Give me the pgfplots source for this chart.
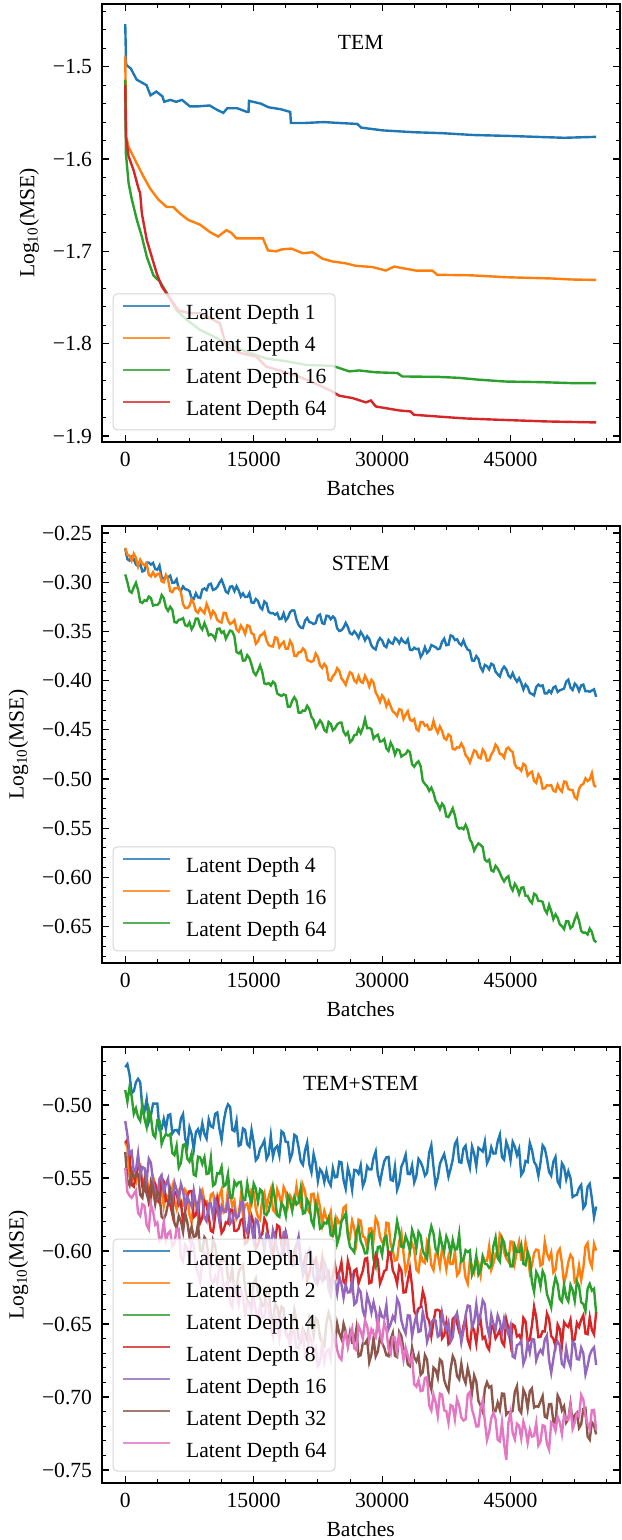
\documentclass[border=0pt]{standalone}
\usepackage{fontspec}
\setmainfont{Liberation Serif}
\usepackage{pgfplots}
\usepackage{pgfplotstable}
\pgfplotsset{compat=1.18}

\definecolor{C0}{HTML}{1F77B4}
\definecolor{C1}{HTML}{FF7F0E}
\definecolor{C2}{HTML}{2CA02C}
\definecolor{C3}{HTML}{D62728}
\definecolor{C4}{HTML}{9467BD}
\definecolor{C5}{HTML}{8C564B}
\definecolor{C6}{HTML}{E377C2}

\newcommand{\fs}{\fontsize{10.8}{13}\selectfont}

% STEM losses, every 250 batches
\pgfplotstableread[row sep=\\]{
x d4 d16 d64\\
0 -0.266 -0.265 -0.292\\
250 -0.2765 -0.272 -0.2999\\
500 -0.278 -0.273 -0.309\\
750 -0.2743 -0.278 -0.3106\\
1000 -0.2765 -0.271 -0.305\\
1250 -0.282 -0.2751 -0.3005\\
1500 -0.2835 -0.284 -0.308\\
1750 -0.2813 -0.2771 -0.3199\\
2000 -0.289 -0.281 -0.321\\
2250 -0.288 -0.2828 -0.3182\\
2500 -0.280 -0.281 -0.319\\
2750 -0.280 -0.2923 -0.3145\\
3000 -0.282 -0.294 -0.316\\
3250 -0.2803 -0.2898 -0.3237\\
3500 -0.2865 -0.294 -0.323\\
3750 -0.2873 -0.2919 -0.3231\\
4000 -0.283 -0.291 -0.3207\\
4250 -0.2948 -0.2991 -0.313\\
4500 -0.2965 -0.300 -0.316\\
4750 -0.2938 -0.2925 -0.3255\\
5000 -0.295 -0.297 -0.329\\
5250 -0.2933 -0.3089 -0.3249\\
5500 -0.3005 -0.310 -0.328\\
5750 -0.3003 -0.3062 -0.3405\\
6000 -0.297 -0.306 -0.341\\
6250 -0.3068 -0.305 -0.3382\\
6500 -0.3085 -0.310 -0.3377\\
6750 -0.3043 -0.3222 -0.3365\\
7000 -0.307 -0.326 -0.3437\\
7250 -0.3075 -0.3262 -0.3446\\
7500 -0.309 -0.324 -0.3407\\
7750 -0.316 -0.3174 -0.3478\\
8000 -0.317 -0.3215 -0.344\\
8250 -0.3112 -0.3293 -0.3369\\
8500 -0.3153 -0.331 -0.337\\
8750 -0.3159 -0.3264 -0.3449\\
9000 -0.3075 -0.329 -0.348\\
9250 -0.3063 -0.3315 -0.3414\\
9500 -0.308 -0.322 -0.3468\\
9750 -0.3023 -0.3273 -0.354\\
10000 -0.3015 -0.335 -0.3528\\
10250 -0.3078 -0.3293 -0.3541\\
10500 -0.307 -0.332 -0.3578\\
10750 -0.3048 -0.3384 -0.3476\\
11000 -0.3005 -0.340 -0.347\\
11250 -0.2973 -0.3409 -0.3514\\
11500 -0.303 -0.331 -0.3498\\
11750 -0.3095 -0.3314 -0.3574\\
12000 -0.311 -0.339 -0.353\\
12250 -0.3045 -0.3424 -0.3491\\
12500 -0.304 -0.341 -0.350\\
12750 -0.309 -0.3385 -0.3551\\
13000 -0.304 -0.348 -0.371\\
13250 -0.3083 -0.3502 -0.3723\\
13500 -0.3145 -0.344 -0.370\\
13750 -0.3113 -0.3471 -0.3796\\
14000 -0.315 -0.3525 -0.3795\\
14250 -0.315 -0.3437 -0.3741\\
14500 -0.311 -0.3445 -0.377\\
14750 -0.3205 -0.3518 -0.3837\\
15000 -0.321 -0.353 -0.3915\\
15250 -0.317 -0.3625 -0.3944\\
15500 -0.319 -0.360 -0.390\\
15750 -0.3253 -0.3541 -0.3845\\
16000 -0.3275 -0.353 -0.391\\
16250 -0.3195 -0.3506 -0.4027\\
16500 -0.3215 -0.359 -0.4035\\
16750 -0.330 -0.3638 -0.4025\\
17000 -0.3315 -0.365 -0.405\\
17250 -0.3313 -0.3653 -0.401\\
17500 -0.333 -0.356 -0.403\\
17750 -0.3313 -0.3568 -0.413\\
18000 -0.3375 -0.366 -0.4145\\
18250 -0.337 -0.3627 -0.4155\\
18500 -0.3315 -0.3605 -0.414\\
18750 -0.3388 -0.3676 -0.4149\\
19000 -0.336 -0.3675 -0.4265\\
19250 -0.3303 -0.3595 -0.4265\\
19500 -0.3285 -0.3635 -0.4205\\
19750 -0.3288 -0.3747 -0.4169\\
20000 -0.338 -0.375 -0.4205\\
20250 -0.3435 -0.3712 -0.4325\\
20500 -0.346 -0.371 -0.4325\\
20750 -0.3465 -0.3673 -0.4303\\
21000 -0.339 -0.3695 -0.4305\\
21250 -0.3363 -0.379 -0.4256\\
21500 -0.3405 -0.380 -0.429\\
21750 -0.341 -0.381 -0.4369\\
22000 -0.3425 -0.3795 -0.440\\
22250 -0.3413 -0.3724 -0.4477\\
22500 -0.334 -0.376 -0.4445\\
22750 -0.3328 -0.3845 -0.4404\\
23000 -0.3415 -0.387 -0.4435\\
23250 -0.3423 -0.3829 -0.4502\\
23500 -0.334 -0.386 -0.452\\
23750 -0.3343 -0.399 -0.442\\
24000 -0.3375 -0.400 -0.444\\
24250 -0.3348 -0.3953 -0.4505\\
24500 -0.337 -0.393 -0.4485\\
24750 -0.3468 -0.3873 -0.4445\\
25000 -0.3495 -0.390 -0.4428\\
25250 -0.3488 -0.3977 -0.4426\\
25500 -0.346 -0.4005 -0.452\\
25750 -0.3413 -0.4042 -0.4553\\
26000 -0.3455 -0.397 -0.4525\\
26250 -0.3518 -0.3914 -0.4625\\
26500 -0.353 -0.393 -0.4605\\
26750 -0.3498 -0.3999 -0.4554\\
27000 -0.3525 -0.402 -0.455\\
27250 -0.3565 -0.3955 -0.4489\\
27500 -0.3505 -0.401 -0.4535\\
27750 -0.3538 -0.4022 -0.4481\\
28000 -0.359 -0.395 -0.439\\
28250 -0.3548 -0.3993 -0.4483\\
28500 -0.3575 -0.406 -0.448\\
28750 -0.3643 -0.3992 -0.4493\\
29000 -0.367 -0.402 -0.459\\
29250 -0.3683 -0.412 -0.4564\\
29500 -0.3605 -0.416 -0.455\\
29750 -0.3568 -0.4215 -0.4619\\
30000 -0.359 -0.415 -0.4615\\
30250 -0.3645 -0.4181 -0.4593\\
30500 -0.366 -0.426 -0.469\\
30750 -0.3588 -0.4206 -0.4714\\
31000 -0.3615 -0.426 -0.463\\
31250 -0.3625 -0.4313 -0.4673\\
31500 -0.3565 -0.433 -0.4752\\
31750 -0.3583 -0.4358 -0.4699\\
32000 -0.362 -0.429 -0.4705\\
32250 -0.3573 -0.4298 -0.4772\\
32500 -0.3605 -0.439 -0.4755\\
32750 -0.3618 -0.4344 -0.4745\\
33000 -0.358 -0.431 -0.471\\
33250 -0.3685 -0.4396 -0.4726\\
33500 -0.369 -0.441 -0.485\\
33750 -0.3665 -0.439 -0.4875\\
34000 -0.368 -0.449 -0.484\\
34250 -0.3675 -0.4509 -0.4819\\
34500 -0.376 -0.442 -0.487\\
34750 -0.3725 -0.4421 -0.502\\
35000 -0.366 -0.4458 -0.505\\
35250 -0.3718 -0.4448 -0.5073\\
35500 -0.3695 -0.4498 -0.512\\
35750 -0.3638 -0.4495 -0.5088\\
36000 -0.365 -0.4408 -0.514\\
36250 -0.366 -0.4481 -0.5222\\
36500 -0.368 -0.453 -0.5255\\
36750 -0.3673 -0.4466 -0.5307\\
37000 -0.3605 -0.451 -0.525\\
37250 -0.3573 -0.4585 -0.5279\\
37500 -0.364 -0.460 -0.538\\
37750 -0.3635 -0.4547 -0.5387\\
38000 -0.354 -0.4565 -0.5345\\
38250 -0.3549 -0.4693 -0.5298\\
38500 -0.3588 -0.470 -0.537\\
38750 -0.3579 -0.4678 -0.548\\
39000 -0.362 -0.468 -0.5505\\
39250 -0.364 -0.4638 -0.5496\\
39500 -0.359 -0.468 -0.551\\
39750 -0.3648 -0.4757 -0.5465\\
40000 -0.3685 -0.4785 -0.5515\\
40250 -0.3695 -0.4832 -0.5613\\
40500 -0.3795 -0.477 -0.565\\
40750 -0.3798 -0.4709 -0.5728\\
41000 -0.375 -0.472 -0.5685\\
41250 -0.3778 -0.4779 -0.5654\\
41500 -0.3865 -0.479 -0.567\\
41750 -0.3903 -0.470 -0.5691\\
42000 -0.384 -0.473 -0.582\\
42250 -0.3853 -0.4812 -0.5838\\
42500 -0.3885 -0.481 -0.582\\
42750 -0.3828 -0.4751 -0.5928\\
43000 -0.384 -0.4715 -0.594\\
43250 -0.3908 -0.465 -0.5883\\
43500 -0.3935 -0.468 -0.591\\
43750 -0.3958 -0.4745 -0.5952\\
44000 -0.389 -0.475 -0.6005\\
44250 -0.3858 -0.4783 -0.6041\\
44500 -0.3885 -0.4695 -0.6005\\
44750 -0.3948 -0.4679 -0.5988\\
45000 -0.397 -0.471 -0.609\\
45250 -0.3923 -0.4726 -0.6132\\
45500 -0.3975 -0.485 -0.6065\\
45750 -0.401 -0.4888 -0.61\\
46000 -0.3975 -0.489 -0.617\\
46250 -0.4023 -0.4916 -0.6105\\
46500 -0.409 -0.4845 -0.610\\
46750 -0.4038 -0.4863 -0.6186\\
47000 -0.4065 -0.4965 -0.6187\\
47250 -0.4125 -0.4939 -0.6236\\
47500 -0.4135 -0.4925 -0.626\\
47750 -0.415 -0.5019 -0.6166\\
48000 -0.4065 -0.504 -0.618\\
48250 -0.404 -0.4955 -0.624\\
48500 -0.4055 -0.499 -0.624\\
48750 -0.4048 -0.5097 -0.6248\\
49000 -0.413 -0.5095 -0.6327\\
49250 -0.413 -0.5063 -0.6364\\
49500 -0.410 -0.5067 -0.628\\
49750 -0.4125 -0.5062 -0.6341\\
50000 -0.407 -0.5117 -0.6425\\
50250 -0.4058 -0.5129 -0.6376\\
50500 -0.4115 -0.5057 -0.641\\
50750 -0.4098 -0.5104 -0.6477\\
51000 -0.409 -0.5127 -0.6495\\
51250 -0.408 -0.5025 -0.6525\\
51500 -0.401 -0.503 -0.6446\\
51750 -0.399 -0.510 -0.6446\\
52000 -0.407 -0.511 -0.6517\\
52250 -0.4095 -0.5112 -0.6496\\
52500 -0.403 -0.5185 -0.6427\\
52750 -0.4053 -0.5203 -0.6374\\
53000 -0.4105 -0.510 -0.644\\
53250 -0.4048 -0.5063 -0.6544\\
53500 -0.404 -0.505 -0.6563\\
53750 -0.4108 -0.4993 -0.656\\
54000 -0.4105 -0.502 -0.658\\
54250 -0.4113 -0.5004 -0.652\\
54500 -0.410 -0.494 -0.6555\\
54750 -0.4088 -0.5064 -0.6638\\
55000 -0.4165 -0.508 -0.666\\
}\stemdata

% TEM+STEM losses, every 250 batches
\pgfplotstableread[row sep=\\]{
x d1 d2 d4 d8 d16 d32 d64\\
0 -0.474 -0.526 -0.4897 -0.526 -0.511 -0.532 -0.543\\
250 -0.472 -0.5285 -0.4977 -0.5238 -0.5203 -0.5515 -0.5595\\
500 -0.479 -0.549 -0.4877 -0.5335 -0.5336 -0.5549 -0.562\\
750 -0.4918 -0.5515 -0.4939 -0.5547 -0.5317 -0.5453 -0.5635\\
1000 -0.4905 -0.548 -0.506 -0.5559 -0.5457 -0.5496 -0.561\\
1250 -0.4843 -0.552 -0.5022 -0.5474 -0.5446 -0.5476 -0.5585\\
1500 -0.482 -0.540 -0.5083 -0.5429 -0.5334 -0.5475 -0.5739\\
1750 -0.4843 -0.5405 -0.5108 -0.5424 -0.548 -0.5615 -0.5759\\
2000 -0.5025 -0.555 -0.4993 -0.5559 -0.5425 -0.5635 -0.5679\\
2250 -0.5043 -0.5504 -0.5093 -0.5582 -0.5432 -0.5522 -0.569\\
2500 -0.496 -0.5478 -0.5152 -0.5525 -0.5519 -0.5608 -0.5822\\
2750 -0.5115 -0.5623 -0.5027 -0.5665 -0.5368 -0.5657 -0.5851\\
3000 -0.507 -0.5648 -0.5082 -0.5624 -0.5396 -0.5526 -0.568\\
3250 -0.499 -0.5494 -0.5202 -0.5522 -0.5525 -0.5572 -0.573\\
3500 -0.499 -0.5539 -0.5221 -0.5539 -0.5593 -0.5677 -0.582\\
3750 -0.499 -0.5625 -0.5104 -0.5645 -0.5629 -0.5593 -0.5805\\
4000 -0.517 -0.5531 -0.5107 -0.567 -0.5505 -0.5609 -0.593\\
4250 -0.5163 -0.5582 -0.5267 -0.5497 -0.5481 -0.5765 -0.5905\\
4500 -0.5095 -0.5693 -0.5226 -0.5523 -0.5597 -0.5781 -0.5799\\
4750 -0.5163 -0.5613 -0.5198 -0.5658 -0.554 -0.5748 -0.5929\\
5000 -0.507 -0.5632 -0.5209 -0.5652 -0.5504 -0.5675 -0.5879\\
5250 -0.5063 -0.567 -0.5199 -0.568 -0.5653 -0.5585 -0.5864\\
5500 -0.5195 -0.5567 -0.5328 -0.5747 -0.5681 -0.5675 -0.5968\\
5750 -0.5173 -0.566 -0.5343 -0.5595 -0.553 -0.581 -0.5948\\
6000 -0.517 -0.5712 -0.5278 -0.5602 -0.5579 -0.5844 -0.5847\\
6250 -0.5192 -0.5614 -0.5428 -0.5684 -0.565 -0.5759 -0.5846\\
6500 -0.5093 -0.5695 -0.5398 -0.5665 -0.554 -0.5794 -0.6045\\
6750 -0.5062 -0.5689 -0.5273 -0.5799 -0.5586 -0.5869 -0.6071\\
7000 -0.523 -0.5582 -0.5267 -0.5732 -0.5692 -0.5743 -0.5957\\
7250 -0.5282 -0.5606 -0.5367 -0.5621 -0.5628 -0.5803 -0.5983\\
7500 -0.5153 -0.575 -0.5387 -0.559 -0.5664 -0.5903 -0.6049\\
7750 -0.5199 -0.5802 -0.5332 -0.5589 -0.5695 -0.5833 -0.5925\\
8000 -0.5305 -0.5654 -0.5477 -0.5768 -0.5585 -0.5903 -0.5961\\
8250 -0.5185 -0.5688 -0.5485 -0.5754 -0.5674 -0.5898 -0.6107\\
8500 -0.5165 -0.5762 -0.5353 -0.568 -0.5722 -0.5812 -0.6153\\
8750 -0.5215 -0.5601 -0.5358 -0.5807 -0.5591 -0.5997 -0.6209\\
9000 -0.5125 -0.558 -0.5403 -0.5773 -0.5639 -0.6001 -0.6065\\
9250 -0.5198 -0.5659 -0.5358 -0.5659 -0.5768 -0.5906 -0.6011\\
9500 -0.523 -0.5658 -0.5472 -0.5685 -0.5796 -0.593 -0.6037\\
9750 -0.5098 -0.5726 -0.5467 -0.5764 -0.5675 -0.605 -0.6027\\
10000 -0.5145 -0.5614 -0.5362 -0.5862 -0.5674 -0.609 -0.6197\\
10250 -0.5153 -0.5603 -0.5552 -0.5871 -0.5763 -0.5925 -0.6217\\
10500 -0.506 -0.5711 -0.5541 -0.576 -0.5651 -0.5959 -0.6176\\
10750 -0.5051 -0.5705 -0.5466 -0.5639 -0.5705 -0.6094 -0.6221\\
11000 -0.5162 -0.5619 -0.5471 -0.5717 -0.5799 -0.6089 -0.6106\\
11250 -0.5238 -0.5578 -0.5424 -0.5876 -0.5693 -0.6059 -0.6116\\
11500 -0.5113 -0.5737 -0.5557 -0.5854 -0.5726 -0.6068 -0.6265\\
11750 -0.5034 -0.5726 -0.5545 -0.5803 -0.573 -0.6048 -0.6225\\
12000 -0.4995 -0.5575 -0.5472 -0.5811 -0.5653 -0.6188 -0.6205\\
12250 -0.5013 -0.5614 -0.5634 -0.5715 -0.5812 -0.6203 -0.6355\\
12500 -0.517 -0.5692 -0.5637 -0.5719 -0.5791 -0.6117 -0.6384\\
12750 -0.5179 -0.5656 -0.5524 -0.5861 -0.5723 -0.6287 -0.6231\\
13000 -0.5108 -0.5779 -0.5551 -0.5862 -0.5774 -0.6257 -0.6278\\
13250 -0.5279 -0.5753 -0.5529 -0.5845 -0.5762 -0.6147 -0.6364\\
13500 -0.527 -0.5627 -0.5526 -0.5787 -0.5669 -0.6116 -0.6269\\
13750 -0.516 -0.5756 -0.5649 -0.5779 -0.5657 -0.6096 -0.632\\
14000 -0.517 -0.5684 -0.5651 -0.5951 -0.5844 -0.6255 -0.6431\\
14250 -0.5268 -0.5675 -0.5536 -0.5941 -0.5877 -0.6338 -0.6352\\
14500 -0.5285 -0.5746 -0.5621 -0.5831 -0.5769 -0.636 -0.6373\\
14750 -0.517 -0.5581 -0.567 -0.576 -0.5829 -0.6371 -0.6415\\
15000 -0.5255 -0.5596 -0.5538 -0.5809 -0.5928 -0.6222 -0.6316\\
15250 -0.5378 -0.5711 -0.5572 -0.5983 -0.5783 -0.6188 -0.6412\\
15500 -0.536 -0.5766 -0.5665 -0.5957 -0.5798 -0.6294 -0.6468\\
15750 -0.5298 -0.5785 -0.5578 -0.5901 -0.5909 -0.6325 -0.6372\\
16000 -0.5275 -0.5644 -0.5591 -0.5884 -0.5919 -0.6376 -0.6456\\
16250 -0.5242 -0.5603 -0.5742 -0.5777 -0.6001 -0.6372 -0.6454\\
16500 -0.5368 -0.5702 -0.5753 -0.581 -0.5883 -0.6248 -0.6351\\
16750 -0.5339 -0.563 -0.5724 -0.5919 -0.5896 -0.6244 -0.6379\\
17000 -0.521 -0.5577 -0.5655 -0.5947 -0.5988 -0.6439 -0.6526\\
17250 -0.5353 -0.5717 -0.5561 -0.6029 -0.5855 -0.6489 -0.6585\\
17500 -0.5295 -0.5736 -0.5646 -0.5931 -0.5902 -0.6359 -0.6444\\
17750 -0.528 -0.5578 -0.5756 -0.5823 -0.5995 -0.6383 -0.65\\
18000 -0.5345 -0.5619 -0.5766 -0.5834 -0.6027 -0.6466 -0.6595\\
18250 -0.5179 -0.5681 -0.5671 -0.5965 -0.6029 -0.638 -0.6456\\
18500 -0.5193 -0.5562 -0.5696 -0.6016 -0.5871 -0.6394 -0.6457\\
18750 -0.5253 -0.5597 -0.5758 -0.5878 -0.5865 -0.6565 -0.6558\\
19000 -0.5253 -0.5691 -0.562 -0.5939 -0.5999 -0.6595 -0.6579\\
19250 -0.5373 -0.562 -0.5653 -0.6085 -0.604 -0.6571 -0.6656\\
19500 -0.5333 -0.5648 -0.5725 -0.6091 -0.6101 -0.6506 -0.6552\\
19750 -0.5204 -0.5672 -0.5633 -0.6003 -0.6093 -0.6402 -0.6548\\
20000 -0.5215 -0.5555 -0.568 -0.5954 -0.5964 -0.6478 -0.6664\\
20250 -0.5291 -0.5642 -0.5665 -0.5935 -0.590 -0.66 -0.6666\\
20500 -0.5387 -0.5688 -0.5569 -0.6076 -0.6036 -0.6622 -0.6587\\
20750 -0.5409 -0.555 -0.5744 -0.6112 -0.6167 -0.6533 -0.6553\\
21000 -0.531 -0.5591 -0.5738 -0.6048 -0.6118 -0.6564 -0.6719\\
21250 -0.5258 -0.5713 -0.5648 -0.6204 -0.6024 -0.661 -0.6715\\
21500 -0.5406 -0.5734 -0.5678 -0.616 -0.599 -0.6456 -0.6571\\
21750 -0.5461 -0.561 -0.5793 -0.608 -0.6037 -0.6498 -0.6616\\
22000 -0.5335 -0.5607 -0.5828 -0.608 -0.6183 -0.6579 -0.670\\
22250 -0.5398 -0.5717 -0.5673 -0.6053 -0.6213 -0.646 -0.6664\\
22500 -0.552 -0.5627 -0.5717 -0.6205 -0.6103 -0.6482 -0.6787\\
22750 -0.544 -0.5702 -0.5847 -0.6157 -0.6173 -0.6594 -0.6761\\
23000 -0.546 -0.5817 -0.5837 -0.6049 -0.6202 -0.6626 -0.6634\\
23250 -0.5527 -0.5726 -0.5805 -0.6191 -0.6071 -0.6649 -0.6762\\
23500 -0.5453 -0.5775 -0.5812 -0.6173 -0.612 -0.6491 -0.669\\
23750 -0.5522 -0.5795 -0.5772 -0.6143 -0.6263 -0.6424 -0.6673\\
24000 -0.555 -0.5734 -0.5892 -0.6253 -0.6305 -0.6476 -0.6735\\
24250 -0.5433 -0.5891 -0.5896 -0.6163 -0.6197 -0.6593 -0.6563\\
24500 -0.5495 -0.5868 -0.580 -0.6093 -0.6209 -0.663 -0.657\\
24750 -0.5492 -0.5778 -0.595 -0.6178 -0.6292 -0.6497 -0.6678\\
25000 -0.5388 -0.5808 -0.590 -0.6143 -0.6174 -0.6564 -0.6726\\
25250 -0.5392 -0.5796 -0.5796 -0.6077 -0.6227 -0.6602 -0.6744\\
25500 -0.5515 -0.5703 -0.5772 -0.621 -0.6319 -0.6499 -0.6601\\
25750 -0.5573 -0.569 -0.5744 -0.6229 -0.6232 -0.6552 -0.6559\\
26000 -0.543 -0.5877 -0.5895 -0.6068 -0.6284 -0.6644 -0.6656\\
26250 -0.5485 -0.5905 -0.5972 -0.6127 -0.6282 -0.6557 -0.6584\\
26500 -0.558 -0.5792 -0.5988 -0.6245 -0.6199 -0.6629 -0.6531\\
26750 -0.5444 -0.5845 -0.6009 -0.6134 -0.6365 -0.663 -0.6666\\
27000 -0.5447 -0.5937 -0.587 -0.6123 -0.635 -0.653 -0.668\\
27250 -0.547 -0.5785 -0.5832 -0.6221 -0.6256 -0.6721 -0.6514\\
27500 -0.5412 -0.5792 -0.5933 -0.6178 -0.6282 -0.6712 -0.6547\\
27750 -0.5555 -0.59 -0.5965 -0.6136 -0.6408 -0.6633 -0.6601\\
28000 -0.5517 -0.5907 -0.6016 -0.6053 -0.6454 -0.6634 -0.6475\\
28250 -0.5419 -0.5977 -0.6014 -0.6047 -0.6303 -0.6608 -0.6512\\
28500 -0.544 -0.5846 -0.5892 -0.622 -0.6352 -0.6762 -0.6608\\
28750 -0.5441 -0.5844 -0.5875 -0.6215 -0.6422 -0.6709 -0.6537\\
29000 -0.5362 -0.5921 -0.6057 -0.611 -0.6351 -0.6595 -0.6566\\
29250 -0.5318 -0.5774 -0.6105 -0.6025 -0.6416 -0.6722 -0.659\\
29500 -0.5474 -0.5806 -0.5972 -0.606 -0.6521 -0.6688 -0.6474\\
29750 -0.5533 -0.5902 -0.5969 -0.6223 -0.6406 -0.659 -0.6564\\
30000 -0.5452 -0.5938 -0.6026 -0.6185 -0.645 -0.6631 -0.6614\\
30250 -0.5385 -0.5952 -0.5912 -0.6137 -0.646 -0.6662 -0.6487\\
30500 -0.5358 -0.5806 -0.5897 -0.6128 -0.637 -0.6713 -0.654\\
30750 -0.5355 -0.581 -0.6027 -0.6004 -0.6535 -0.672 -0.6672\\
31000 -0.5512 -0.5953 -0.6017 -0.602 -0.650 -0.6606 -0.6704\\
31250 -0.5518 -0.5999 -0.5981 -0.6133 -0.6447 -0.6562 -0.6589\\
31500 -0.5424 -0.6065 -0.5905 -0.6165 -0.6474 -0.6717 -0.6593\\
31750 -0.558 -0.606 -0.5795 -0.6225 -0.6328 -0.6726 -0.6689\\
32000 -0.5536 -0.5934 -0.5865 -0.6104 -0.6362 -0.6554 -0.6585\\
32250 -0.5422 -0.5874 -0.597 -0.6134 -0.6476 -0.6583 -0.6646\\
32500 -0.5388 -0.6014 -0.5975 -0.6284 -0.6529 -0.6672 -0.6747\\
32750 -0.534 -0.6144 -0.5897 -0.6282 -0.6565 -0.6675 -0.6662\\
33000 -0.5472 -0.6093 -0.5938 -0.620 -0.644 -0.6777 -0.6717\\
33250 -0.5473 -0.5992 -0.5997 -0.6121 -0.6443 -0.6789 -0.6758\\
33500 -0.5414 -0.595 -0.5855 -0.6241 -0.6585 -0.6661 -0.6718\\
33750 -0.553 -0.5989 -0.5899 -0.6412 -0.6503 -0.6728 -0.6914\\
34000 -0.5486 -0.6127 -0.5983 -0.6442 -0.644 -0.6755 -0.6929\\
34250 -0.5368 -0.6143 -0.5869 -0.6393 -0.6554 -0.6712 -0.6885\\
34500 -0.539 -0.6019 -0.5894 -0.6384 -0.6547 -0.6848 -0.696\\
34750 -0.5427 -0.6071 -0.6001 -0.6275 -0.6418 -0.6831 -0.6955\\
35000 -0.5483 -0.6082 -0.6027 -0.6326 -0.6489 -0.6713 -0.6869\\
35250 -0.5464 -0.5933 -0.6054 -0.6453 -0.6621 -0.6745 -0.6864\\
35500 -0.5325 -0.5964 -0.590 -0.648 -0.6572 -0.6897 -0.7059\\
35750 -0.5274 -0.6098 -0.583 -0.6583 -0.649 -0.6948 -0.7092\\
36000 -0.5422 -0.6131 -0.5879 -0.6486 -0.6468 -0.6798 -0.6984\\
36250 -0.5551 -0.602 -0.5986 -0.6404 -0.6477 -0.6813 -0.7037\\
36500 -0.550 -0.6028 -0.6013 -0.6402 -0.6586 -0.6868 -0.7129\\
36750 -0.5404 -0.6107 -0.5886 -0.6411 -0.6575 -0.6743 -0.6977\\
37000 -0.5367 -0.5986 -0.5958 -0.6599 -0.6424 -0.6758 -0.6984\\
37250 -0.5336 -0.6036 -0.5999 -0.6577 -0.6502 -0.6883 -0.7091\\
37500 -0.5405 -0.6125 -0.590 -0.6494 -0.654 -0.6927 -0.7097\\
37750 -0.5491 -0.6037 -0.594 -0.6636 -0.649 -0.6958 -0.7176\\
38000 -0.5437 -0.6089 -0.602 -0.6617 -0.662 -0.6809 -0.7055\\
38250 -0.5372 -0.6087 -0.5925 -0.6464 -0.659 -0.672 -0.7064\\
38500 -0.5267 -0.6004 -0.599 -0.6451 -0.646 -0.6752 -0.7152\\
38750 -0.5239 -0.6166 -0.5987 -0.6493 -0.6424 -0.6856 -0.7015\\
39000 -0.5391 -0.6148 -0.5884 -0.6555 -0.6508 -0.6879 -0.7058\\
39250 -0.5395 -0.6047 -0.6072 -0.6594 -0.6627 -0.6772 -0.714\\
39500 -0.5299 -0.6065 -0.606 -0.6512 -0.6545 -0.6865 -0.7161\\
39750 -0.5278 -0.6184 -0.5994 -0.646 -0.6439 -0.6904 -0.7152\\
40000 -0.5376 -0.6223 -0.6007 -0.6608 -0.6373 -0.6802 -0.6983\\
40250 -0.543 -0.6062 -0.5996 -0.6652 -0.6377 -0.6866 -0.6965\\
40500 -0.5284 -0.610 -0.6164 -0.6515 -0.652 -0.6969 -0.7086\\
40750 -0.5332 -0.6144 -0.6128 -0.6544 -0.6483 -0.6852 -0.7134\\
41000 -0.542 -0.6048 -0.6031 -0.6633 -0.6365 -0.6894 -0.7202\\
41250 -0.5293 -0.6087 -0.616 -0.6502 -0.6488 -0.7027 -0.7201\\
41500 -0.5305 -0.6166 -0.6129 -0.6471 -0.643 -0.7059 -0.7079\\
41750 -0.5318 -0.6035 -0.6038 -0.66 -0.6338 -0.7101 -0.7023\\
42000 -0.525 -0.6064 -0.6086 -0.6588 -0.6365 -0.6943 -0.7166\\
42250 -0.5398 -0.6067 -0.6091 -0.6652 -0.6513 -0.6899 -0.7295\\
42500 -0.5366 -0.5969 -0.6115 -0.6676 -0.658 -0.6935 -0.7243\\
42750 -0.5289 -0.6127 -0.6101 -0.651 -0.6439 -0.6926 -0.7146\\
43000 -0.5332 -0.6084 -0.5966 -0.6524 -0.6498 -0.7096 -0.7108\\
43250 -0.5331 -0.6022 -0.5907 -0.6598 -0.6539 -0.7097 -0.7151\\
43500 -0.5249 -0.6039 -0.6048 -0.6572 -0.644 -0.7038 -0.7293\\
43750 -0.5203 -0.5882 -0.6071 -0.6539 -0.6481 -0.7087 -0.7304\\
44000 -0.5356 -0.5904 -0.5913 -0.6625 -0.6562 -0.6976 -0.7174\\
44250 -0.5374 -0.6007 -0.594 -0.6647 -0.6464 -0.6978 -0.7322\\
44500 -0.5252 -0.605 -0.6028 -0.6468 -0.6525 -0.712 -0.743\\
44750 -0.5295 -0.6073 -0.6017 -0.653 -0.6569 -0.7103 -0.7178\\
45000 -0.5378 -0.5935 -0.6106 -0.6632 -0.6513 -0.7105 -0.7105\\
45250 -0.5252 -0.5937 -0.6106 -0.6503 -0.6723 -0.7095 -0.7247\\
45500 -0.5285 -0.6078 -0.5966 -0.6514 -0.6732 -0.6964 -0.7289\\
45750 -0.5343 -0.5998 -0.6006 -0.6585 -0.6645 -0.6926 -0.7183\\
46000 -0.530 -0.5937 -0.6006 -0.6575 -0.6637 -0.7087 -0.7197\\
46250 -0.5478 -0.6059 -0.5957 -0.6607 -0.6615 -0.7109 -0.7283\\
46500 -0.5455 -0.606 -0.6087 -0.6458 -0.6772 -0.695 -0.7169\\
46750 -0.5383 -0.5938 -0.6097 -0.6481 -0.673 -0.6984 -0.7222\\
47000 -0.5391 -0.6015 -0.6006 -0.6623 -0.6628 -0.7078 -0.7314\\
47250 -0.5259 -0.6147 -0.605 -0.6606 -0.6695 -0.696 -0.7223\\
47500 -0.5306 -0.6098 -0.6214 -0.6508 -0.6602 -0.6941 -0.7271\\
47750 -0.5389 -0.6014 -0.6279 -0.6381 -0.6606 -0.7072 -0.7265\\
48000 -0.5412 -0.599 -0.6143 -0.6453 -0.675 -0.7063 -0.7178\\
48250 -0.5484 -0.5995 -0.6173 -0.659 -0.6704 -0.7067 -0.7332\\
48500 -0.5395 -0.610 -0.6243 -0.6587 -0.6678 -0.703 -0.7305\\
48750 -0.5276 -0.6089 -0.6138 -0.6549 -0.6702 -0.6993 -0.7193\\
49000 -0.5297 -0.5937 -0.6172 -0.6551 -0.6606 -0.7135 -0.720\\
49250 -0.5368 -0.6016 -0.6295 -0.6428 -0.6578 -0.7143 -0.732\\
49500 -0.5458 -0.6054 -0.6338 -0.6465 -0.6749 -0.705 -0.736\\
49750 -0.5483 -0.601 -0.6386 -0.6583 -0.6835 -0.7048 -0.7174\\
50000 -0.5388 -0.6147 -0.6253 -0.6601 -0.674 -0.7166 -0.7187\\
50250 -0.5356 -0.6128 -0.6181 -0.6652 -0.665 -0.7178 -0.7231\\
50500 -0.5523 -0.6009 -0.6228 -0.6503 -0.662 -0.6989 -0.7135\\
50750 -0.5551 -0.5985 -0.6328 -0.6535 -0.6647 -0.702 -0.7174\\
51000 -0.5398 -0.6081 -0.6347 -0.6646 -0.6773 -0.7091 -0.7253\\
51250 -0.5424 -0.6221 -0.6231 -0.6487 -0.679 -0.7063 -0.7124\\
51500 -0.5509 -0.6161 -0.6315 -0.6508 -0.6667 -0.7175 -0.7154\\
51750 -0.5454 -0.6074 -0.6344 -0.652 -0.675 -0.715 -0.7157\\
52000 -0.5499 -0.6026 -0.6232 -0.6471 -0.6792 -0.7044 -0.706\\
52250 -0.563 -0.6049 -0.6267 -0.6618 -0.6624 -0.7174 -0.7218\\
52500 -0.562 -0.6211 -0.6342 -0.6605 -0.6636 -0.7124 -0.7175\\
52750 -0.5614 -0.6197 -0.621 -0.6493 -0.674 -0.7108 -0.7114\\
53000 -0.5568 -0.6102 -0.6238 -0.652 -0.6743 -0.7212 -0.7133\\
53250 -0.5547 -0.6198 -0.6351 -0.647 -0.6662 -0.7187 -0.6986\\
53500 -0.5705 -0.6114 -0.6363 -0.644 -0.6701 -0.7081 -0.7018\\
53750 -0.5683 -0.597 -0.6411 -0.6565 -0.6844 -0.7076 -0.7131\\
54000 -0.556 -0.5945 -0.6258 -0.657 -0.6787 -0.727 -0.7184\\
54250 -0.554 -0.6066 -0.6225 -0.6455 -0.6713 -0.7292 -0.7217\\
54500 -0.564 -0.6106 -0.6271 -0.654 -0.6678 -0.7173 -0.709\\
54750 -0.5768 -0.5951 -0.6258 -0.657 -0.666 -0.7195 -0.7088\\
55000 -0.5695 -0.5996 -0.6425 -0.642 -0.6781 -0.7256 -0.7225\\
}\bothdata

\pgfplotsset{
  lossaxis/.style={
    scale only axis, width=259pt,
    xmin=-2750, xmax=57750,
    xtick={0,15000,30000,45000},
    xticklabels={0,15000,30000,45000},
    minor xtick={3750,7500,11250,18750,22500,26250,33750,37500,41250,48750,52500,56250},
    scaled x ticks=false, scaled y ticks=false,
    tick align=inside, tick pos=both,
    major tick length=3.5pt, minor tick length=2pt,
    major tick style={black, line width=0.6pt},
    minor tick style={black, line width=0.5pt},
    axis line style={line width=0.85pt},
    tick label style={font=\fs},
    label style={font=\fs},
    xticklabel style={yshift=-1.6pt},
    yticklabel style={xshift=-1.3pt},
    xlabel={Batches},
    ylabel={Log\textsubscript{10}(MSE)},
    legend cell align=left,
    legend image code/.code={\draw[#1, line width=1.25pt] (0pt,4pt) -- (23.65pt,4pt);},
    legend style={
      at={(axis description cs:0.0212,0.0265)}, anchor=south west,
      draw=black!20, line width=0.5pt, fill=white,
      fill opacity=0.8, draw opacity=0.8, text opacity=1,
      rounded corners=2pt, inner xsep=4.3pt, inner ysep=5pt,
      row sep=6pt, column sep=7.3pt,
      nodes={inner sep=0pt, text height=8pt, text depth=2pt},
      font=\fs,
    },
    every axis plot/.append style={line width=1.2pt},
  },
}

\begin{document}
\begin{tikzpicture}
\useasboundingbox (-50.85pt,2pt) rectangle (259.65pt,-768pt);

% ---- TEM ----
\begin{axis}[lossaxis,
  at={(0pt,0pt)}, anchor=north west, height=219pt,
  ymin=-1.9065, ymax=-1.4321,
  ytick={-1.9,-1.8,-1.7,-1.6,-1.5},
  yticklabels={−1.9,−1.8,−1.7,−1.6,−1.5},
  minor ytick={-1.88,-1.86,-1.84,-1.82,-1.78,-1.76,-1.74,-1.72,-1.68,-1.66,-1.64,-1.62,-1.58,-1.56,-1.54,-1.52,-1.48,-1.46,-1.44},
]
\addplot[C0] coordinates {(0,-1.454) (100,-1.498) (650,-1.502) (1330,-1.514) (2480,-1.52) (2950,-1.531) (3630,-1.527) (4330,-1.532) (4550,-1.538) (5250,-1.536) (5940,-1.538) (6630,-1.536) (7550,-1.543) (8470,-1.543) (9850,-1.542) (10770,-1.547) (11460,-1.550) (11920,-1.545) (13070,-1.545) (14220,-1.549) (14400,-1.549) (14450,-1.537) (15830,-1.540) (16750,-1.544) (18130,-1.546) (19270,-1.549) (19350,-1.561) (20880,-1.561) (23190,-1.560) (25020,-1.561) (27100,-1.562) (27560,-1.566) (30090,-1.569) (33770,-1.571) (36990,-1.572) (40670,-1.574) (44810,-1.575) (48020,-1.576) (51240,-1.577) (55000,-1.576)};
\addlegendentry{Latent Depth 1}
\addplot[C1] coordinates {(0,-1.488) (116,-1.576) (390,-1.587) (775,-1.594) (1360,-1.605) (2130,-1.619) (2910,-1.632) (3880,-1.644) (4845,-1.652) (5620,-1.652) (6395,-1.659) (7360,-1.666) (8720,-1.671) (9880,-1.679) (10850,-1.684) (11820,-1.677) (12400,-1.680) (12985,-1.686) (14535,-1.686) (16085,-1.686) (16670,-1.699) (17640,-1.700) (18220,-1.698) (19380,-1.697) (20740,-1.702) (21900,-1.701) (23060,-1.708) (24225,-1.711) (25775,-1.713) (26940,-1.7157) (28880,-1.717) (30430,-1.7208) (31400,-1.7165) (33920,-1.7208) (35860,-1.7208) (36440,-1.7254) (40510,-1.726) (44390,-1.728) (49810,-1.7294) (52140,-1.7305) (55000,-1.731)};
\addlegendentry{Latent Depth 4}
\addplot[C2] coordinates {(0,-1.514) (78,-1.594) (390,-1.626) (775,-1.644) (1360,-1.666) (1940,-1.684) (2520,-1.706) (3290,-1.726) (4070,-1.733) (4845,-1.745) (6010,-1.764) (7170,-1.774) (8720,-1.785) (10270,-1.792) (12600,-1.803) (14535,-1.810) (16470,-1.816) (18800,-1.819) (21120,-1.823) (24225,-1.824) (25000,-1.8264) (26160,-1.830) (27325,-1.829) (29260,-1.831) (31780,-1.8318) (32360,-1.8355) (36620,-1.836) (38950,-1.837) (41280,-1.839) (44390,-1.841) (48260,-1.8416) (52140,-1.8427) (55000,-1.8427)};
\addlegendentry{Latent Depth 16}
\addplot[C3] coordinates {(0,-1.520) (78,-1.576) (390,-1.597) (970,-1.612) (1550,-1.632) (1745,-1.637) (1940,-1.659) (2520,-1.688) (3100,-1.706) (3680,-1.724) (4265,-1.738) (5230,-1.751) (6200,-1.764) (7560,-1.767) (8720,-1.767) (10270,-1.774) (11050,-1.778) (11820,-1.803) (13370,-1.810) (15310,-1.814) (16470,-1.825) (18020,-1.829) (20350,-1.836) (22670,-1.845) (24225,-1.852) (25000,-1.8564) (26550,-1.8589) (28100,-1.8636) (28690,-1.8615) (29260,-1.868) (31970,-1.8723) (33330,-1.8734) (33720,-1.877) (37400,-1.8795) (39730,-1.881) (43610,-1.8824) (49040,-1.8842) (55000,-1.8853)};
\addlegendentry{Latent Depth 64}
\node[font=\fs] at (axis description cs:0.5,0.913) {TEM};
\end{axis}

% ---- STEM ----
\begin{axis}[lossaxis,
  at={(0pt,-261pt)}, anchor=north west, height=218.5pt,
  ymin=-0.687, ymax=-0.2428,
  ytick={-0.65,-0.6,-0.55,-0.5,-0.45,-0.4,-0.35,-0.3,-0.25},
  yticklabels={−0.65,−0.60,−0.55,−0.50,−0.45,−0.40,−0.35,−0.30,−0.25},
  minor ytick={-0.68,-0.67,-0.66,-0.64,-0.63,-0.62,-0.61,-0.59,-0.58,-0.57,-0.56,-0.54,-0.53,-0.52,-0.51,-0.49,-0.48,-0.47,-0.46,-0.44,-0.43,-0.42,-0.41,-0.39,-0.38,-0.37,-0.36,-0.34,-0.33,-0.32,-0.31,-0.29,-0.28,-0.27,-0.26},
]
\addplot[C0] table[x=x, y=d4] {\stemdata};
\addlegendentry{Latent Depth 4}
\addplot[C1] table[x=x, y=d16] {\stemdata};
\addlegendentry{Latent Depth 16}
\addplot[C2] table[x=x, y=d64] {\stemdata};
\addlegendentry{Latent Depth 64}
\node[font=\fs] at (axis description cs:0.5,0.915) {STEM};
\end{axis}

% ---- TEM+STEM ----
\begin{axis}[lossaxis,
  at={(0pt,-521.35pt)}, anchor=north west, height=218.2pt,
  ymin=-0.759, ymax=-0.46,
  ytick={-0.75,-0.7,-0.65,-0.6,-0.55,-0.5},
  yticklabels={−0.75,−0.70,−0.65,−0.60,−0.55,−0.50},
  minor ytick={-0.74,-0.73,-0.72,-0.71,-0.69,-0.68,-0.67,-0.66,-0.64,-0.63,-0.62,-0.61,-0.59,-0.58,-0.57,-0.56,-0.54,-0.53,-0.52,-0.51,-0.49,-0.48,-0.47},
]
\addplot[C0] table[x=x, y=d1] {\bothdata};
\addlegendentry{Latent Depth 1}
\addplot[C1] table[x=x, y=d2] {\bothdata};
\addlegendentry{Latent Depth 2}
\addplot[C2] table[x=x, y=d4] {\bothdata};
\addlegendentry{Latent Depth 4}
\addplot[C3] table[x=x, y=d8] {\bothdata};
\addlegendentry{Latent Depth 8}
\addplot[C4] table[x=x, y=d16] {\bothdata};
\addlegendentry{Latent Depth 16}
\addplot[C5] table[x=x, y=d32] {\bothdata};
\addlegendentry{Latent Depth 32}
\addplot[C6] table[x=x, y=d64] {\bothdata};
\addlegendentry{Latent Depth 64}
\node[font=\fs] at (axis description cs:0.5,0.916) {TEM+STEM};
\end{axis}
\end{tikzpicture}
\end{document}
